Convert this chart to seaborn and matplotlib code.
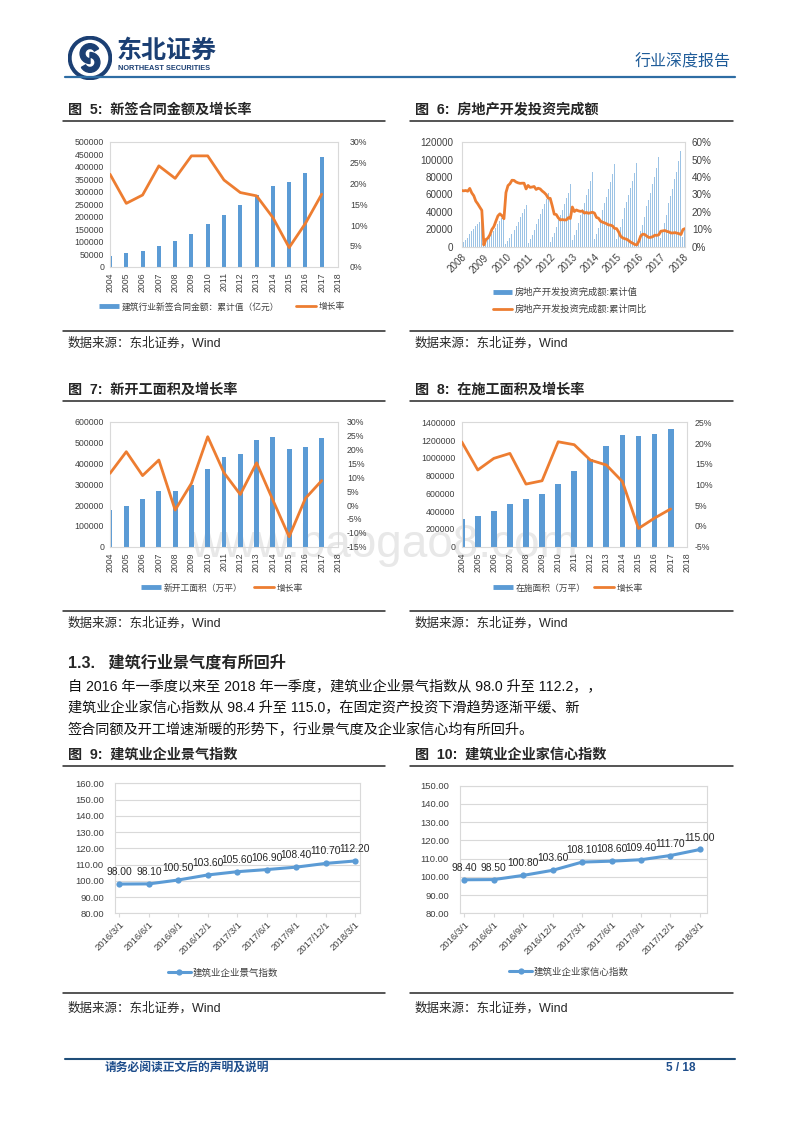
import numpy as np
import pandas as pd
import matplotlib
matplotlib.use("Agg")
import matplotlib.pyplot as plt
import seaborn as sns
from matplotlib.lines import Line2D
from matplotlib.patches import Circle, Wedge

# ---------------- data ----------------
years = list(range(2004, 2018))
year_ticks = list(range(2004, 2019))

contract_amt = [44000, 53000, 64000, 81000, 103000, 129000, 171000,
                208000, 247000, 287000, 323000, 337000, 374000, 440000]
contract_growth = [22.2, 15.2, 17.2, 24.2, 21.2, 26.6, 26.6,
                   20.8, 17.8, 17.0, 11.8, 4.6, 10.4, 17.4]

new_start_area = [176000, 195000, 227000, 267000, 269000, 296000, 373000,
                  430000, 446000, 514000, 528000, 467000, 478000, 520000]
new_start_growth = [11.4, 19.2, 10.6, 16.2, -1.8, 7.8, 24.6,
                    11.6, 3.8, 15.2, 1.8, -11.4, 2.4, 8.8]

under_constr_area = [308000, 345000, 405000, 480000, 533000, 589000, 706000,
                     852000, 987000, 1137000, 1257000, 1246000, 1268000, 1321000]
under_constr_growth = [20.3, 13.5, 16.3, 17.5, 10.1, 10.9, 20.3,
                       19.6, 15.9, 14.7, 10.7, -0.6, 1.9, 4.1]

# real estate investment, Feb..Dec cumulative each year (no January print)
re_months = [f"{y}-{m:02d}" for y in range(2008, 2018) for m in range(2, 13)] + ["2018-02", "2018-03"]
re_cum = [
    2627, 4917, 7460, 10512, 14670, 17630, 20590, 23720, 26360, 28720, 30580,
    2503, 4855, 7447, 10696, 14932, 18316, 21864, 25997, 29851, 32906, 36232,
    3418, 6594, 10001, 14401, 19761, 24226, 28866, 33958, 38624, 43267, 48259,
    4620, 8846, 13370, 18737, 26250, 31715, 37278, 43710, 49300, 55000, 61740,
    5908, 10925, 15874, 22138, 30610, 36543, 42506, 49336, 55708, 62200, 71804,
    7255, 13226, 19215, 26698, 36828, 43817, 50749, 59174, 66417, 75200, 86013,
    8586, 14951, 21613, 30104, 42019, 49830, 57450, 66665, 74702, 83500, 95036,
    8864, 16044, 22938, 31544, 43955, 51150, 58983, 67900, 75000, 85000, 95979,
    9092, 17677, 24956, 33694, 46907, 53918, 61907, 71865, 80149, 91000, 102581,
    9917, 19292, 27732, 36829, 50610, 58286, 66596, 77520, 86352, 99000, 109799,
    10971, 21291,
]
re_yoy = [
    32.3, 32.1, 32.3, 31.9, 33.5, 30.9, 29.3, 26.2, 24.6, 22.7, 20.9,
    1.0, 4.1, 4.9, 6.8, 9.9, 11.6, 14.7, 17.7, 18.9, 17.8, 16.1,
    31.1, 35.1, 36.2, 38.2, 38.1, 37.2, 36.7, 36.4, 36.5, 36.5, 33.2,
    35.2, 34.1, 34.3, 34.6, 32.9, 33.6, 33.2, 32.0, 31.1, 29.9, 27.9,
    27.8, 23.5, 18.7, 18.5, 16.6, 15.4, 15.6, 15.4, 15.4, 16.7, 16.2,
    22.8, 20.2, 21.1, 20.6, 20.3, 20.5, 19.3, 19.7, 19.2, 19.5, 19.8,
    19.3, 16.8, 16.4, 14.7, 14.1, 13.7, 13.2, 12.5, 12.4, 11.9, 10.5,
    10.4, 8.5, 6.0, 5.1, 4.6, 4.3, 3.5, 2.6, 2.0, 1.3, 1.0,
    3.0, 6.2, 7.2, 7.0, 6.1, 5.3, 5.4, 5.8, 6.6, 6.5, 6.9,
    8.9, 9.1, 9.3, 8.8, 8.5, 7.9, 7.9, 8.1, 7.8, 7.5, 7.0,
    9.9, 10.4,
]

idx_dates = ["2016/3/1", "2016/6/1", "2016/9/1", "2016/12/1", "2017/3/1",
             "2017/6/1", "2017/9/1", "2017/12/1", "2018/3/1"]
prosperity_idx = [98.0, 98.1, 100.5, 103.6, 105.6, 106.9, 108.4, 110.7, 112.2]
confidence_idx = [98.4, 98.5, 100.8, 103.6, 108.1, 108.6, 109.4, 111.7, 115.0]

# ---------------- style ----------------
sns.set_theme(style="white")
plt.rcParams["font.family"] = ["Liberation Sans", "Noto Sans CJK SC", "DejaVu Sans"]
plt.rcParams["axes.unicode_minus"] = False

BLUE = "#5B9BD5"
ORANGE = "#ED7D31"
GRID = "#D9D9D9"
TXT = "#404040"
NAVY = "#1B3F73"

W, H = 800, 1132
fig = plt.figure(figsize=(W / 100, H / 100), dpi=100)


def fx(x):
    return x / W


def fy(y):
    return 1 - y / H


def add_ax(l, t, r, b):
    ax = fig.add_axes([l / W, 1 - b / H, (r - l) / W, (b - t) / H])
    ax.set_facecolor("none")
    return ax


def hline(x0, x1, y, color="#262626", lw=1.1):
    fig.add_artist(Line2D([fx(x0), fx(x1)], [fy(y), fy(y)],
                          transform=fig.transFigure, color=color, lw=lw))


def box(ax):
    for s in ax.spines.values():
        s.set_visible(True)
        s.set_color(GRID)
        s.set_linewidth(0.8)


def bar_line(rect, amt, growth, bar_w, ylim, ystep, glim, gstep,
             lpad, rpad, labels, leg_c, colsp):
    ax = add_ax(*rect)
    sns.barplot(x=years, y=amt, native_scale=True, width=bar_w, color=BLUE,
                saturation=1, errorbar=None, linewidth=0, ax=ax)
    ax2 = ax.twinx()
    sns.lineplot(x=years, y=growth, color=ORANGE, linewidth=2.0, ax=ax2)
    ax.set_xlim(2004, 2018)
    ax.set_ylim(*ylim)
    yt = np.arange(ylim[0], ylim[1] + 1, ystep)
    ax.set_yticks(yt)
    ax.set_yticklabels([f"{v:.0f}" for v in yt])
    ax2.set_ylim(*glim)
    gt = np.arange(glim[0], glim[1] + 1, gstep)
    ax2.set_yticks(gt)
    ax2.set_yticklabels([f"{v:.0f}%" for v in gt])
    ax.set_xticks(year_ticks)
    ax.set_xticklabels([str(y) for y in year_ticks], rotation=90)
    ax.set_xlabel("")
    ax.set_ylabel("")
    ax2.set_ylabel("")
    box(ax)
    for s in ax2.spines.values():
        s.set_visible(False)
    ax.tick_params(axis="y", length=0, labelsize=6.3, labelcolor=TXT, pad=lpad)
    ax.tick_params(axis="x", length=0, labelsize=6.3, labelcolor=TXT, pad=4)
    ax2.tick_params(axis="y", length=0, labelsize=6.3, labelcolor=TXT, pad=rpad)
    handles = [Line2D([], [], color=BLUE, lw=3.5, solid_capstyle="butt"),
               Line2D([], [], color=ORANGE, lw=2)]
    ax.legend(handles, labels, loc="center", bbox_to_anchor=(fx(leg_c[0]), fy(leg_c[1])),
              bbox_transform=fig.transFigure, ncol=2, frameon=False, fontsize=6.3,
              handlelength=2.3, handletextpad=0.3, columnspacing=colsp,
              labelcolor=TXT)
    return ax


def index_chart(rect, vals, ylim, xlim, leg_label, leg_c):
    ax = add_ax(*rect)
    sns.pointplot(x=idx_dates, y=vals, color=BLUE, errorbar=None, markers="o",
                  markersize=4.5, linewidth=2.2, markeredgewidth=0, ax=ax)
    for i, v in enumerate(vals):
        ax.annotate(f"{v:.2f}", xy=(i, v), xytext=(0, 8.6), textcoords="offset points",
                    ha="center", va="center", fontsize=7.4, color="#262626",
                    annotation_clip=False)
    ax.set_xlim(*xlim)
    ax.set_ylim(*ylim)
    yt = np.arange(ylim[0], ylim[1] + 1, 10)
    ax.set_yticks(yt)
    ax.set_yticklabels([f"{v:.2f}" for v in yt])
    ax.set_xticks(range(len(idx_dates)))
    ax.set_xticklabels(idx_dates, rotation=45, ha="right", rotation_mode="anchor")
    ax.set_xlabel("")
    ax.set_ylabel("")
    ax.grid(axis="y", color=GRID, lw=0.8)
    ax.grid(axis="x", visible=False)
    ax.set_axisbelow(True)
    box(ax)
    ax.tick_params(axis="y", length=0, labelsize=6.8, labelcolor=TXT, pad=8)
    ax.tick_params(axis="x", bottom=True, length=3, width=0.8, color=GRID,
                   labelsize=6.8, labelcolor=TXT, pad=2)
    handle = Line2D([], [], color=BLUE, lw=2.2, marker="o", ms=4.5, mew=0)
    ax.legend([handle], [leg_label], loc="center",
              bbox_to_anchor=(fx(leg_c[0]), fy(leg_c[1])), bbox_transform=fig.transFigure,
              frameon=False, fontsize=6.8, handlelength=2.4, handletextpad=0.2,
              labelcolor=TXT)
    return ax


# ---------------- header ----------------
logo = add_ax(68, 36, 112, 80)
logo.set_xlim(-1, 1)
logo.set_ylim(-1, 1)
logo.set_aspect("equal")
logo.axis("off")
logo.add_patch(Circle((0, 0), 0.98, color=NAVY))
logo.add_patch(Circle((0, 0), 0.80, color="white"))
logo.add_patch(Wedge((0.0, 0.2), 0.45, 30, 270, width=0.22, color=NAVY))
logo.add_patch(Wedge((0.0, -0.2), 0.45, 210, 90, width=0.22, color=NAVY))

fig.text(fx(117), fy(51), "东北证券", fontsize=18, weight="bold", color=NAVY, va="center")
fig.text(fx(118), fy(68), "NORTHEAST SECURITIES", fontsize=5.3, weight="bold",
         color=NAVY, va="center")
fig.text(fx(731), fy(62), "行业深度报告", fontsize=11.5, color="#1F5C99", ha="right", va="center")
hline(65, 735, 77, color="#2E6DA4", lw=1.6)

# ---------------- watermark ----------------
fig.text(fx(190), fy(557), "www.baogao8.com", fontsize=33, color="#E8E8E8",
         va="baseline", zorder=-1)

# ---------------- figure 5 / 6 ----------------
fig.text(fx(68), fy(110), "图  5:  新签合同金额及增长率", fontsize=10.2, weight="bold", va="center")
fig.text(fx(415), fy(110), "图  6:  房地产开发投资完成额", fontsize=10.2, weight="bold", va="center")
hline(63, 385, 121)
hline(410, 733, 121)

bar_line((110, 141.7, 338, 266.7), contract_amt, contract_growth, 0.25,
         (0, 500000), 50000, (0, 30), 5, 4.3, 8.5,
         ["建筑行业新签合同金额：累计值（亿元）", "增长率"], (222, 307), 1.9)

ax6 = add_ax(461.7, 142.3, 685, 246.7)
re_pos = np.arange(len(re_months))
sns.barplot(x=re_pos, y=re_cum, native_scale=True, width=0.5, color=BLUE, alpha=0.6,
            saturation=1, errorbar=None, linewidth=0, ax=ax6)
ax6b = ax6.twinx()
sns.lineplot(x=re_pos, y=re_yoy, color=ORANGE, linewidth=2.0, ax=ax6b)
ax6.set_xlim(0, len(re_months) - 1)
ax6.set_ylim(0, 120000)
ax6.set_yticks(np.arange(0, 120001, 20000))
ax6.set_yticklabels([f"{v}" for v in range(0, 120001, 20000)])
ax6b.set_ylim(0, 60)
ax6b.set_yticks(np.arange(0, 61, 10))
ax6b.set_yticklabels([f"{v}%" for v in range(0, 61, 10)])
yr_pos = [i for i, m in enumerate(re_months) if m.endswith("-02")]
ax6.set_xticks(yr_pos)
ax6.set_xticklabels([re_months[i][:4] for i in yr_pos], rotation=45, ha="right",
                    rotation_mode="anchor")
ax6.set_xlabel("")
ax6.set_ylabel("")
ax6b.set_ylabel("")
box(ax6)
for s in ax6b.spines.values():
    s.set_visible(False)
ax6.tick_params(axis="y", length=0, labelsize=7.1, labelcolor=TXT, pad=6)
ax6.tick_params(axis="x", length=0, labelsize=7.1, labelcolor=TXT, pad=4)
ax6b.tick_params(axis="y", length=0, labelsize=7.1, labelcolor=TXT, pad=5)
ax6.legend([Line2D([], [], color=BLUE, lw=3.5, solid_capstyle="butt"),
            Line2D([], [], color=ORANGE, lw=2)],
           ["房地产开发投资完成额:累计值", "房地产开发投资完成额:累计同比"],
           loc="center", bbox_to_anchor=(fx(570), fy(301)), bbox_transform=fig.transFigure,
           frameon=False, fontsize=6.7, handlelength=2.1, handletextpad=0.3,
           labelspacing=0.85, labelcolor=TXT)

fig.text(fx(68), fy(343), "数据来源：东北证券，Wind", fontsize=9, color="#262626", va="center")
fig.text(fx(415), fy(343), "数据来源：东北证券，Wind", fontsize=9, color="#262626", va="center")
hline(63, 385, 331)
hline(410, 733, 331)

# ---------------- figure 7 / 8 ----------------
fig.text(fx(68), fy(390), "图  7:  新开工面积及增长率", fontsize=10.2, weight="bold", va="center")
fig.text(fx(415), fy(390), "图  8:  在施工面积及增长率", fontsize=10.2, weight="bold", va="center")
hline(63, 385, 401)
hline(410, 733, 401)

bar_line((110, 421.7, 338, 546.7), new_start_area, new_start_growth, 0.3,
         (0, 600000), 100000, (-15, 30), 5, 4.3, 6.5,
         ["新开工面积（万平）", "增长率"], (222, 588), 1.25)
bar_line((461.7, 422.3, 686.7, 546.7), under_constr_area, under_constr_growth, 0.36,
         (0, 1400000), 200000, (-5, 25), 5, 4.8, 6,
         ["在施面积（万平）", "增长率"], (568, 588), 0.9)

fig.text(fx(68), fy(623), "数据来源：东北证券，Wind", fontsize=9, color="#262626", va="center")
fig.text(fx(415), fy(623), "数据来源：东北证券，Wind", fontsize=9, color="#262626", va="center")
hline(63, 385, 611)
hline(410, 733, 611)

# ---------------- body text ----------------
fig.text(fx(68), fy(663), "1.3.   建筑行业景气度有所回升", fontsize=11.6, weight="bold", va="center")
body = ["自 2016 年一季度以来至 2018 年一季度，建筑业企业景气指数从 98.0 升至 112.2，，",
        "建筑业企业家信心指数从 98.4 升至 115.0，在固定资产投资下滑趋势逐渐平缓、新",
        "签合同额及开工增速渐暖的形势下，行业景气度及企业家信心均有所回升。"]
for i, line in enumerate(body):
    fig.text(fx(68), fy(686 + 22 * i), line, fontsize=10.2, color="#111111", va="center")

# ---------------- figure 9 / 10 ----------------
fig.text(fx(68), fy(755), "图  9:  建筑业企业景气指数", fontsize=10.2, weight="bold", va="center")
fig.text(fx(415), fy(755), "图  10:  建筑业企业家信心指数", fontsize=10.2, weight="bold", va="center")
hline(63, 385, 766)
hline(410, 733, 766)

index_chart((115, 783.3, 360, 913.3), prosperity_idx, (80, 160), (-0.15, 8.17),
            "建筑业企业景气指数", (223, 973))
index_chart((460, 785.7, 706.7, 913.3), confidence_idx, (80, 150), (-0.15, 8.23),
            "建筑业企业家信心指数", (569, 972))

fig.text(fx(68), fy(1008), "数据来源：东北证券，Wind", fontsize=9, color="#262626", va="center")
fig.text(fx(415), fy(1008), "数据来源：东北证券，Wind", fontsize=9, color="#262626", va="center")
hline(63, 385, 993)
hline(410, 733, 993)

# ---------------- footer ----------------
hline(65, 735, 1059, color="#1F4E79", lw=1.5)
fig.text(fx(105), fy(1068), "请务必阅读正文后的声明及说明", fontsize=8.5, weight="bold",
         color="#1F4E8C", va="center")
fig.text(fx(695), fy(1068), "5 / 18", fontsize=8.5, weight="bold", color="#1F4E8C",
         ha="right", va="center")

fig.savefig("out.png", dpi=100)
